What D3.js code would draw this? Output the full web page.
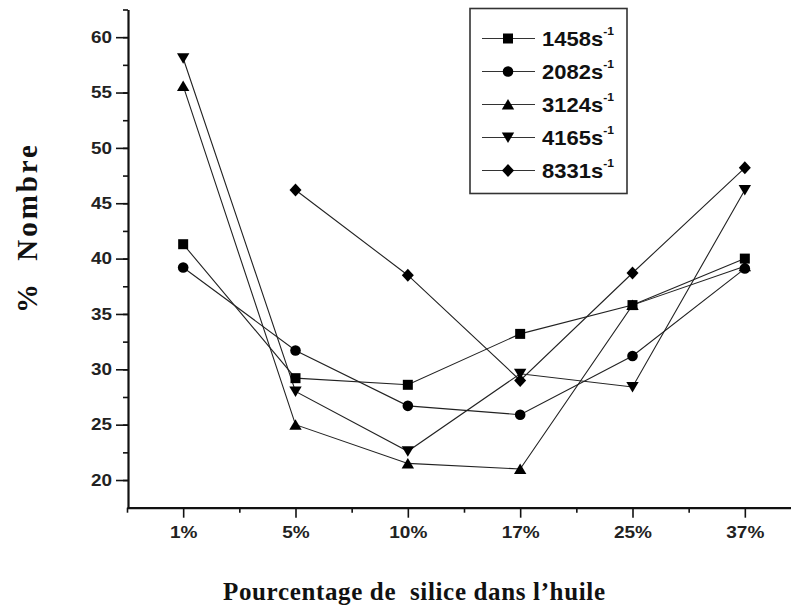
<!DOCTYPE html>
<html><head><meta charset="utf-8">
<script src="https://cdn.jsdelivr.net/npm/d3@7"></script>
<style>body{margin:0;background:#fff}svg{display:block}</style>
</head><body><svg id="c" width="791" height="611"></svg>
<script>
const categories = ["1%","5%","10%","17%","25%","37%"];
const seriesNames = ["1458","2082","3124","4165","8331"];
const s1458 = [41.3, 29.2, 28.6, 33.2, 35.8, 40.0];
const s2082 = [39.2, 31.7, 26.7, 25.9, 31.2, 39.1];
const s3124 = [55.6, 25.0, 21.5, 21.0, 35.8, 39.3];
const s4165 = [58.1, 28.0, 22.6, 29.6, 28.4, 46.2];
const s8331 = [null, 46.2, 38.5, 29.0, 38.7, 48.2];
const yTicks = [20,25,30,35,40,45,50,55,60];
const yMinor = [20,22.5,25,27.5,30,32.5,35,37.5,40,42.5,45,47.5,50,52.5,55,57.5,60,62.5];
const markerTypes = ["square","circle","triangle","triangleDown","diamond"];
const allSeries = [s1458, s2082, s3124, s4165, s8331];

const svg = d3.select("#c");
svg.append("rect").attr("width",791).attr("height",611).attr("fill","#fff");

const x = d3.scaleLinear().domain([-0.5, 5.5]).range([127, 801]);
const y = d3.scaleLinear().domain([17.5, 62.5]).range([507.7, 9.5]);

function marker(type){
  switch(type){
    case "square": return "M-5,-5h10v10h-10Z";
    case "circle": return d3.symbol(d3.symbolCircle, Math.PI*5.3*5.3)();
    case "triangle": return "M0,-5.5L6.2,5L-6.2,5Z";
    case "triangleDown": return "M0,5.5L6.2,-5L-6.2,-5Z";
    case "diamond": return "M0,-6.5L6,0L0,6.5L-6,0Z";
  }
}

// axes
const tickFont = "'Liberation Sans', Arial, sans-serif";
const yMinorAxis = svg.append("g").attr("transform","translate(128,0)")
  .call(d3.axisLeft(y).tickValues(yMinor).tickSize(5).tickFormat(""));
yMinorAxis.select(".domain").remove();
yMinorAxis.selectAll("line").attr("stroke","#111").attr("stroke-width",1.6);

const yAxis = svg.append("g").attr("transform","translate(128,0)")
  .call(d3.axisLeft(y).tickValues(yTicks).tickSize(12).tickSizeOuter(0).tickPadding(4));
yAxis.select(".domain").attr("stroke","#111").attr("stroke-width",2.2);
yAxis.selectAll("line").attr("stroke","#111").attr("stroke-width",1.6);
yAxis.selectAll("text").attr("font-family",tickFont).attr("font-weight","bold")
  .attr("font-size",16).attr("fill","#222")
  .attr("transform","scale(1.18,1)").attr("x",-16/1.18);

const xMinorAxis = svg.append("g").attr("transform","translate(0,507.7)")
  .call(d3.axisBottom(x).tickValues([-0.5,0.5,1.5,2.5,3.5,4.5,5.5]).tickSize(5).tickFormat(""));
xMinorAxis.select(".domain").remove();
xMinorAxis.selectAll("line").attr("stroke","#111").attr("stroke-width",1.6);

const xAxis = svg.append("g").attr("transform","translate(0,507.7)")
  .call(d3.axisBottom(x).tickValues(d3.range(categories.length)).tickFormat(i=>categories[i])
    .tickSize(10).tickSizeOuter(0).tickPadding(8));
xAxis.select(".domain").attr("stroke","#111").attr("stroke-width",2.2);
xAxis.selectAll("line").attr("stroke","#111").attr("stroke-width",1.6);
xAxis.selectAll("text").attr("font-family",tickFont).attr("font-weight","bold")
  .attr("font-size",17).attr("fill","#222").attr("transform","scale(1.12,1)");

// series
const line = d3.line().defined(d=>d.v!=null).x(d=>x(d.i)).y(d=>y(d.v));
const g = svg.append("g");
allSeries.forEach((s,k)=>{
  const pts = s.map((v,i)=>({i,v}));
  g.append("path").attr("d",line(pts)).attr("fill","none")
    .attr("stroke","#222").attr("stroke-width",1.1);
});
allSeries.forEach((s,k)=>{
  const pts = s.map((v,i)=>({i,v})).filter(d=>d.v!=null);
  g.selectAll(null).data(pts).enter().append("path")
    .attr("d",marker(markerTypes[k]))
    .attr("transform",d=>`translate(${x(d.i)},${y(d.v)})`)
    .attr("fill","#000");
});

// legend
const lg = svg.append("g");
lg.append("rect").attr("x",470).attr("y",8.5).attr("width",157).attr("height",185)
  .attr("fill","#fff").attr("stroke","#333").attr("stroke-width",1.6);
seriesNames.forEach((n,k)=>{
  const cy = 38.5 + k*33;
  lg.append("line").attr("x1",482).attr("x2",535).attr("y1",cy).attr("y2",cy)
    .attr("stroke","#333").attr("stroke-width",1.2);
  lg.append("path").attr("d",marker(markerTypes[k])).attr("transform",`translate(508,${cy})`)
    .attr("fill","#000");
  const t = lg.append("text").attr("transform",`translate(542,${cy+7.5}) scale(1.1,1)`)
    .attr("font-family",tickFont).attr("font-weight","bold").attr("font-size",20).attr("fill","#111");
  t.append("tspan").text(n+"s");
  t.append("tspan").attr("font-size",11).attr("dy",-11).text("-1");
});

// axis titles
const serif = "'Liberation Serif', 'Times New Roman', serif";
svg.append("text").attr("transform","translate(37,229) rotate(-90)")
  .attr("text-anchor","middle").attr("font-family",serif).attr("font-weight","bold")
  .attr("font-size",29).attr("fill","#111").style("white-space","pre")
  .attr("textLength",168).attr("lengthAdjust","spacing")
  .text("%  Nombre");
svg.append("text").attr("x",414).attr("y",600)
  .attr("text-anchor","middle").attr("font-family",serif).attr("font-weight","bold")
  .attr("font-size",25).attr("fill","#111").style("white-space","pre")
  .attr("textLength",382).attr("lengthAdjust","spacing")
  .text("Pourcentage de  silice dans l\u2019huile");
</script>
</body></html>
